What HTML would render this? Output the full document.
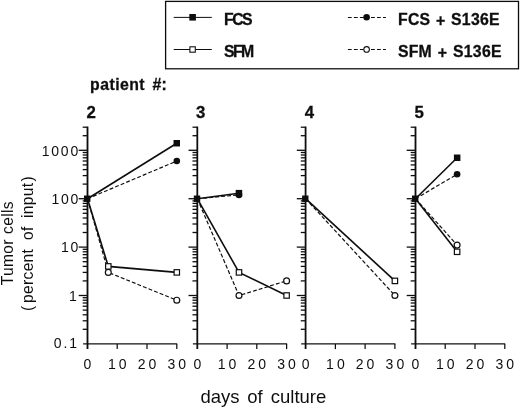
<!DOCTYPE html>
<html lang="en"><head><meta charset="utf-8"><title>Tumor cells vs days of culture</title>
<style>html,body{margin:0;padding:0;background:#fff}body{width:520px;height:408px;overflow:hidden;font-family:"Liberation Sans",sans-serif}svg{display:block;position:absolute;left:0;top:0}</style></head>
<body>
<svg width="520" height="408" viewBox="0 0 520 408">
<rect width="520" height="408" fill="#fff"/>
<defs><filter id="soft" x="0" y="0" width="520" height="408" filterUnits="userSpaceOnUse"><feGaussianBlur stdDeviation="0.32"/></filter></defs>
<g filter="url(#soft)" font-family="'Liberation Sans', sans-serif" fill="#111" stroke="none">
<rect x="165.6" y="1.4" width="352.9" height="67.4" fill="none" stroke="#111" stroke-width="1.3"/>
<line x1="173.7" y1="17.4" x2="211.8" y2="17.4" stroke="#111" stroke-width="1"/>
<rect x="189.3" y="14.0" width="6.6" height="6.6" fill="#111"/>
<line x1="173.7" y1="49.5" x2="211.8" y2="49.5" stroke="#111" stroke-width="1"/>
<rect x="189.9" y="46.8" width="5.4" height="5.4" fill="#fff" stroke="#111" stroke-width="1.1"/>
<line x1="347.9" y1="17.4" x2="364" y2="17.4" stroke="#111" stroke-width="1.05" stroke-dasharray="3.8 2.2"/>
<line x1="371.0" y1="17.4" x2="385.9" y2="17.4" stroke="#111" stroke-width="1.05" stroke-dasharray="3.8 2.2"/>
<circle cx="366.6" cy="17.3" r="3.3" fill="#111"/>
<line x1="347.9" y1="49.5" x2="364" y2="49.5" stroke="#111" stroke-width="1.05" stroke-dasharray="3.8 2.2"/>
<line x1="371.0" y1="49.5" x2="385.9" y2="49.5" stroke="#111" stroke-width="1.05" stroke-dasharray="3.8 2.2"/>
<circle cx="366.6" cy="49.4" r="2.8" fill="#fff" stroke="#111" stroke-width="1.1"/>
<text x="224.1" y="25.0" font-size="15.8" font-weight="bold" stroke="#111" stroke-width="0.3" letter-spacing="-1.6">FCS</text>
<text x="224.1" y="57.1" font-size="15.8" font-weight="bold" stroke="#111" stroke-width="0.3" letter-spacing="-1.6">SFM</text>
<text x="398.1" y="25.0" font-size="15.8" font-weight="bold" stroke="#111" stroke-width="0.3" letter-spacing="0.15">FCS</text>
<text x="436.1" y="25.9" font-size="15.8" font-weight="bold" stroke="#111" stroke-width="0.3">+</text>
<text x="451.0" y="25.0" font-size="15.8" font-weight="bold" stroke="#111" stroke-width="0.3" letter-spacing="0.3">S136E</text>
<text x="398.0" y="57.1" font-size="15.8" font-weight="bold" stroke="#111" stroke-width="0.3" letter-spacing="0.15">SFM</text>
<text x="437.8" y="58.0" font-size="15.8" font-weight="bold" stroke="#111" stroke-width="0.3">+</text>
<text x="452.9" y="57.1" font-size="15.8" font-weight="bold" stroke="#111" stroke-width="0.3" letter-spacing="0.3">S136E</text>
<text x="90.1" y="90.2" font-size="15.8" font-weight="bold" stroke="#111" stroke-width="0.3" letter-spacing="0.45">patient</text>
<text x="152.5" y="90.2" font-size="15.8" font-weight="bold" stroke="#111" stroke-width="0.3" letter-spacing="0.1">#:</text>
<text x="86.6" y="117.7" font-size="16.8" font-weight="bold" stroke="#111" stroke-width="0.3">2</text>
<text x="195.9" y="117.7" font-size="16.8" font-weight="bold" stroke="#111" stroke-width="0.3">3</text>
<text x="304.7" y="117.7" font-size="16.8" font-weight="bold" stroke="#111" stroke-width="0.3">4</text>
<text x="414.5" y="117.7" font-size="16.8" font-weight="bold" stroke="#111" stroke-width="0.3">5</text>
<text transform="translate(13.0,285.3) rotate(-90)" font-size="15.6" letter-spacing="0.3">Tumor</text>
<text transform="translate(13.0,233.9) rotate(-90)" font-size="15.6" letter-spacing="0.3">cells</text>
<text transform="translate(33.0,310.9) rotate(-90)" font-size="15.6" letter-spacing="0.3">(</text>
<text transform="translate(33.0,302.9) rotate(-90)" font-size="15.6" letter-spacing="0.3">percent</text>
<text transform="translate(33.0,239.9) rotate(-90)" font-size="15.6" letter-spacing="0.3">of</text>
<text transform="translate(33.0,217.9) rotate(-90)" font-size="15.6" letter-spacing="0.3">input</text>
<text transform="translate(33.0,181.6) rotate(-90)" font-size="15.6" letter-spacing="0.3">)</text>
<text x="200.4" y="402.9" font-size="18.5">days</text>
<text x="247.3" y="402.9" font-size="18.5">of</text>
<text x="270.8" y="402.9" font-size="18.5">culture</text>
<text x="80.0" y="155.6" font-size="14" text-anchor="end" letter-spacing="1.8">1000</text>
<text x="80.2" y="204.0" font-size="14" text-anchor="end" letter-spacing="1.8">100</text>
<text x="80.2" y="252.4" font-size="14" text-anchor="end" letter-spacing="1.8">10</text>
<text x="78.7" y="300.8" font-size="14" text-anchor="end" letter-spacing="1.8">1</text>
<text x="53.7" y="348.2" font-size="14" letter-spacing="2.0">0.1</text>
<line x1="87.5" y1="126.6" x2="87.5" y2="349.0" stroke="#111" stroke-width="1.8"/>
<line x1="83.1" y1="343.9" x2="177.2" y2="343.9" stroke="#111" stroke-width="1.4"/>
<text x="89.0" y="368.8" font-size="14" text-anchor="middle" letter-spacing="3.0">0</text>
<line x1="117.2" y1="343.9" x2="117.2" y2="349.09999999999997" stroke="#111" stroke-width="1.25"/>
<text x="118.8" y="368.8" font-size="14" text-anchor="middle" letter-spacing="3.0">10</text>
<line x1="147.0" y1="343.9" x2="147.0" y2="349.09999999999997" stroke="#111" stroke-width="1.25"/>
<text x="148.5" y="368.8" font-size="14" text-anchor="middle" letter-spacing="3.0">20</text>
<line x1="176.8" y1="343.9" x2="176.8" y2="349.09999999999997" stroke="#111" stroke-width="1.25"/>
<text x="178.2" y="368.8" font-size="14" text-anchor="middle" letter-spacing="3.0">30</text>
<line x1="82.7" y1="329.3" x2="87.5" y2="329.3" stroke="#111" stroke-width="1.3"/>
<line x1="82.7" y1="320.8" x2="87.5" y2="320.8" stroke="#111" stroke-width="1.3"/>
<line x1="82.7" y1="314.8" x2="87.5" y2="314.8" stroke="#111" stroke-width="1.3"/>
<line x1="82.7" y1="310.1" x2="87.5" y2="310.1" stroke="#111" stroke-width="1.3"/>
<line x1="82.7" y1="306.2" x2="87.5" y2="306.2" stroke="#111" stroke-width="1.3"/>
<line x1="82.7" y1="303.0" x2="87.5" y2="303.0" stroke="#111" stroke-width="1.3"/>
<line x1="82.7" y1="300.2" x2="87.5" y2="300.2" stroke="#111" stroke-width="1.3"/>
<line x1="82.7" y1="297.7" x2="87.5" y2="297.7" stroke="#111" stroke-width="1.3"/>
<line x1="78.7" y1="295.5" x2="87.5" y2="295.5" stroke="#111" stroke-width="1.3"/>
<line x1="82.7" y1="280.9" x2="87.5" y2="280.9" stroke="#111" stroke-width="1.3"/>
<line x1="82.7" y1="272.4" x2="87.5" y2="272.4" stroke="#111" stroke-width="1.3"/>
<line x1="82.7" y1="266.4" x2="87.5" y2="266.4" stroke="#111" stroke-width="1.3"/>
<line x1="82.7" y1="261.7" x2="87.5" y2="261.7" stroke="#111" stroke-width="1.3"/>
<line x1="82.7" y1="257.8" x2="87.5" y2="257.8" stroke="#111" stroke-width="1.3"/>
<line x1="82.7" y1="254.6" x2="87.5" y2="254.6" stroke="#111" stroke-width="1.3"/>
<line x1="82.7" y1="251.8" x2="87.5" y2="251.8" stroke="#111" stroke-width="1.3"/>
<line x1="82.7" y1="249.3" x2="87.5" y2="249.3" stroke="#111" stroke-width="1.3"/>
<line x1="78.7" y1="247.1" x2="87.5" y2="247.1" stroke="#111" stroke-width="1.3"/>
<line x1="82.7" y1="232.5" x2="87.5" y2="232.5" stroke="#111" stroke-width="1.3"/>
<line x1="82.7" y1="224.0" x2="87.5" y2="224.0" stroke="#111" stroke-width="1.3"/>
<line x1="82.7" y1="218.0" x2="87.5" y2="218.0" stroke="#111" stroke-width="1.3"/>
<line x1="82.7" y1="213.3" x2="87.5" y2="213.3" stroke="#111" stroke-width="1.3"/>
<line x1="82.7" y1="209.4" x2="87.5" y2="209.4" stroke="#111" stroke-width="1.3"/>
<line x1="82.7" y1="206.2" x2="87.5" y2="206.2" stroke="#111" stroke-width="1.3"/>
<line x1="82.7" y1="203.4" x2="87.5" y2="203.4" stroke="#111" stroke-width="1.3"/>
<line x1="82.7" y1="200.9" x2="87.5" y2="200.9" stroke="#111" stroke-width="1.3"/>
<line x1="78.7" y1="198.7" x2="87.5" y2="198.7" stroke="#111" stroke-width="1.3"/>
<line x1="82.7" y1="184.1" x2="87.5" y2="184.1" stroke="#111" stroke-width="1.3"/>
<line x1="82.7" y1="175.6" x2="87.5" y2="175.6" stroke="#111" stroke-width="1.3"/>
<line x1="82.7" y1="169.6" x2="87.5" y2="169.6" stroke="#111" stroke-width="1.3"/>
<line x1="82.7" y1="164.9" x2="87.5" y2="164.9" stroke="#111" stroke-width="1.3"/>
<line x1="82.7" y1="161.0" x2="87.5" y2="161.0" stroke="#111" stroke-width="1.3"/>
<line x1="82.7" y1="157.8" x2="87.5" y2="157.8" stroke="#111" stroke-width="1.3"/>
<line x1="82.7" y1="155.0" x2="87.5" y2="155.0" stroke="#111" stroke-width="1.3"/>
<line x1="82.7" y1="152.5" x2="87.5" y2="152.5" stroke="#111" stroke-width="1.3"/>
<line x1="78.7" y1="150.3" x2="87.5" y2="150.3" stroke="#111" stroke-width="1.3"/>
<line x1="82.7" y1="135.7" x2="87.5" y2="135.7" stroke="#111" stroke-width="1.3"/>
<line x1="82.7" y1="127.2" x2="87.5" y2="127.2" stroke="#111" stroke-width="1.3"/>
<line x1="197.3" y1="126.6" x2="197.3" y2="349.0" stroke="#111" stroke-width="1.8"/>
<line x1="192.9" y1="343.9" x2="287.1" y2="343.9" stroke="#111" stroke-width="1.4"/>
<text x="198.8" y="368.8" font-size="14" text-anchor="middle" letter-spacing="3.0">0</text>
<line x1="227.1" y1="343.9" x2="227.1" y2="349.09999999999997" stroke="#111" stroke-width="1.25"/>
<text x="228.6" y="368.8" font-size="14" text-anchor="middle" letter-spacing="3.0">10</text>
<line x1="256.8" y1="343.9" x2="256.8" y2="349.09999999999997" stroke="#111" stroke-width="1.25"/>
<text x="258.3" y="368.8" font-size="14" text-anchor="middle" letter-spacing="3.0">20</text>
<line x1="286.6" y1="343.9" x2="286.6" y2="349.09999999999997" stroke="#111" stroke-width="1.25"/>
<text x="288.1" y="368.8" font-size="14" text-anchor="middle" letter-spacing="3.0">30</text>
<line x1="192.5" y1="329.3" x2="197.3" y2="329.3" stroke="#111" stroke-width="1.3"/>
<line x1="192.5" y1="320.8" x2="197.3" y2="320.8" stroke="#111" stroke-width="1.3"/>
<line x1="192.5" y1="314.8" x2="197.3" y2="314.8" stroke="#111" stroke-width="1.3"/>
<line x1="192.5" y1="310.1" x2="197.3" y2="310.1" stroke="#111" stroke-width="1.3"/>
<line x1="192.5" y1="306.2" x2="197.3" y2="306.2" stroke="#111" stroke-width="1.3"/>
<line x1="192.5" y1="303.0" x2="197.3" y2="303.0" stroke="#111" stroke-width="1.3"/>
<line x1="192.5" y1="300.2" x2="197.3" y2="300.2" stroke="#111" stroke-width="1.3"/>
<line x1="192.5" y1="297.7" x2="197.3" y2="297.7" stroke="#111" stroke-width="1.3"/>
<line x1="188.5" y1="295.5" x2="197.3" y2="295.5" stroke="#111" stroke-width="1.3"/>
<line x1="192.5" y1="280.9" x2="197.3" y2="280.9" stroke="#111" stroke-width="1.3"/>
<line x1="192.5" y1="272.4" x2="197.3" y2="272.4" stroke="#111" stroke-width="1.3"/>
<line x1="192.5" y1="266.4" x2="197.3" y2="266.4" stroke="#111" stroke-width="1.3"/>
<line x1="192.5" y1="261.7" x2="197.3" y2="261.7" stroke="#111" stroke-width="1.3"/>
<line x1="192.5" y1="257.8" x2="197.3" y2="257.8" stroke="#111" stroke-width="1.3"/>
<line x1="192.5" y1="254.6" x2="197.3" y2="254.6" stroke="#111" stroke-width="1.3"/>
<line x1="192.5" y1="251.8" x2="197.3" y2="251.8" stroke="#111" stroke-width="1.3"/>
<line x1="192.5" y1="249.3" x2="197.3" y2="249.3" stroke="#111" stroke-width="1.3"/>
<line x1="188.5" y1="247.1" x2="197.3" y2="247.1" stroke="#111" stroke-width="1.3"/>
<line x1="192.5" y1="232.5" x2="197.3" y2="232.5" stroke="#111" stroke-width="1.3"/>
<line x1="192.5" y1="224.0" x2="197.3" y2="224.0" stroke="#111" stroke-width="1.3"/>
<line x1="192.5" y1="218.0" x2="197.3" y2="218.0" stroke="#111" stroke-width="1.3"/>
<line x1="192.5" y1="213.3" x2="197.3" y2="213.3" stroke="#111" stroke-width="1.3"/>
<line x1="192.5" y1="209.4" x2="197.3" y2="209.4" stroke="#111" stroke-width="1.3"/>
<line x1="192.5" y1="206.2" x2="197.3" y2="206.2" stroke="#111" stroke-width="1.3"/>
<line x1="192.5" y1="203.4" x2="197.3" y2="203.4" stroke="#111" stroke-width="1.3"/>
<line x1="192.5" y1="200.9" x2="197.3" y2="200.9" stroke="#111" stroke-width="1.3"/>
<line x1="188.5" y1="198.7" x2="197.3" y2="198.7" stroke="#111" stroke-width="1.3"/>
<line x1="192.5" y1="184.1" x2="197.3" y2="184.1" stroke="#111" stroke-width="1.3"/>
<line x1="192.5" y1="175.6" x2="197.3" y2="175.6" stroke="#111" stroke-width="1.3"/>
<line x1="192.5" y1="169.6" x2="197.3" y2="169.6" stroke="#111" stroke-width="1.3"/>
<line x1="192.5" y1="164.9" x2="197.3" y2="164.9" stroke="#111" stroke-width="1.3"/>
<line x1="192.5" y1="161.0" x2="197.3" y2="161.0" stroke="#111" stroke-width="1.3"/>
<line x1="192.5" y1="157.8" x2="197.3" y2="157.8" stroke="#111" stroke-width="1.3"/>
<line x1="192.5" y1="155.0" x2="197.3" y2="155.0" stroke="#111" stroke-width="1.3"/>
<line x1="192.5" y1="152.5" x2="197.3" y2="152.5" stroke="#111" stroke-width="1.3"/>
<line x1="188.5" y1="150.3" x2="197.3" y2="150.3" stroke="#111" stroke-width="1.3"/>
<line x1="192.5" y1="135.7" x2="197.3" y2="135.7" stroke="#111" stroke-width="1.3"/>
<line x1="192.5" y1="127.2" x2="197.3" y2="127.2" stroke="#111" stroke-width="1.3"/>
<line x1="305.6" y1="126.6" x2="305.6" y2="349.0" stroke="#111" stroke-width="1.8"/>
<line x1="301.20000000000005" y1="343.9" x2="395.4" y2="343.9" stroke="#111" stroke-width="1.4"/>
<text x="307.1" y="368.8" font-size="14" text-anchor="middle" letter-spacing="3.0">0</text>
<line x1="335.4" y1="343.9" x2="335.4" y2="349.09999999999997" stroke="#111" stroke-width="1.25"/>
<text x="336.9" y="368.8" font-size="14" text-anchor="middle" letter-spacing="3.0">10</text>
<line x1="365.1" y1="343.9" x2="365.1" y2="349.09999999999997" stroke="#111" stroke-width="1.25"/>
<text x="366.6" y="368.8" font-size="14" text-anchor="middle" letter-spacing="3.0">20</text>
<line x1="394.9" y1="343.9" x2="394.9" y2="349.09999999999997" stroke="#111" stroke-width="1.25"/>
<text x="396.4" y="368.8" font-size="14" text-anchor="middle" letter-spacing="3.0">30</text>
<line x1="300.8" y1="329.3" x2="305.6" y2="329.3" stroke="#111" stroke-width="1.3"/>
<line x1="300.8" y1="320.8" x2="305.6" y2="320.8" stroke="#111" stroke-width="1.3"/>
<line x1="300.8" y1="314.8" x2="305.6" y2="314.8" stroke="#111" stroke-width="1.3"/>
<line x1="300.8" y1="310.1" x2="305.6" y2="310.1" stroke="#111" stroke-width="1.3"/>
<line x1="300.8" y1="306.2" x2="305.6" y2="306.2" stroke="#111" stroke-width="1.3"/>
<line x1="300.8" y1="303.0" x2="305.6" y2="303.0" stroke="#111" stroke-width="1.3"/>
<line x1="300.8" y1="300.2" x2="305.6" y2="300.2" stroke="#111" stroke-width="1.3"/>
<line x1="300.8" y1="297.7" x2="305.6" y2="297.7" stroke="#111" stroke-width="1.3"/>
<line x1="296.8" y1="295.5" x2="305.6" y2="295.5" stroke="#111" stroke-width="1.3"/>
<line x1="300.8" y1="280.9" x2="305.6" y2="280.9" stroke="#111" stroke-width="1.3"/>
<line x1="300.8" y1="272.4" x2="305.6" y2="272.4" stroke="#111" stroke-width="1.3"/>
<line x1="300.8" y1="266.4" x2="305.6" y2="266.4" stroke="#111" stroke-width="1.3"/>
<line x1="300.8" y1="261.7" x2="305.6" y2="261.7" stroke="#111" stroke-width="1.3"/>
<line x1="300.8" y1="257.8" x2="305.6" y2="257.8" stroke="#111" stroke-width="1.3"/>
<line x1="300.8" y1="254.6" x2="305.6" y2="254.6" stroke="#111" stroke-width="1.3"/>
<line x1="300.8" y1="251.8" x2="305.6" y2="251.8" stroke="#111" stroke-width="1.3"/>
<line x1="300.8" y1="249.3" x2="305.6" y2="249.3" stroke="#111" stroke-width="1.3"/>
<line x1="296.8" y1="247.1" x2="305.6" y2="247.1" stroke="#111" stroke-width="1.3"/>
<line x1="300.8" y1="232.5" x2="305.6" y2="232.5" stroke="#111" stroke-width="1.3"/>
<line x1="300.8" y1="224.0" x2="305.6" y2="224.0" stroke="#111" stroke-width="1.3"/>
<line x1="300.8" y1="218.0" x2="305.6" y2="218.0" stroke="#111" stroke-width="1.3"/>
<line x1="300.8" y1="213.3" x2="305.6" y2="213.3" stroke="#111" stroke-width="1.3"/>
<line x1="300.8" y1="209.4" x2="305.6" y2="209.4" stroke="#111" stroke-width="1.3"/>
<line x1="300.8" y1="206.2" x2="305.6" y2="206.2" stroke="#111" stroke-width="1.3"/>
<line x1="300.8" y1="203.4" x2="305.6" y2="203.4" stroke="#111" stroke-width="1.3"/>
<line x1="300.8" y1="200.9" x2="305.6" y2="200.9" stroke="#111" stroke-width="1.3"/>
<line x1="296.8" y1="198.7" x2="305.6" y2="198.7" stroke="#111" stroke-width="1.3"/>
<line x1="300.8" y1="184.1" x2="305.6" y2="184.1" stroke="#111" stroke-width="1.3"/>
<line x1="300.8" y1="175.6" x2="305.6" y2="175.6" stroke="#111" stroke-width="1.3"/>
<line x1="300.8" y1="169.6" x2="305.6" y2="169.6" stroke="#111" stroke-width="1.3"/>
<line x1="300.8" y1="164.9" x2="305.6" y2="164.9" stroke="#111" stroke-width="1.3"/>
<line x1="300.8" y1="161.0" x2="305.6" y2="161.0" stroke="#111" stroke-width="1.3"/>
<line x1="300.8" y1="157.8" x2="305.6" y2="157.8" stroke="#111" stroke-width="1.3"/>
<line x1="300.8" y1="155.0" x2="305.6" y2="155.0" stroke="#111" stroke-width="1.3"/>
<line x1="300.8" y1="152.5" x2="305.6" y2="152.5" stroke="#111" stroke-width="1.3"/>
<line x1="296.8" y1="150.3" x2="305.6" y2="150.3" stroke="#111" stroke-width="1.3"/>
<line x1="300.8" y1="135.7" x2="305.6" y2="135.7" stroke="#111" stroke-width="1.3"/>
<line x1="300.8" y1="127.2" x2="305.6" y2="127.2" stroke="#111" stroke-width="1.3"/>
<line x1="415.5" y1="126.6" x2="415.5" y2="349.0" stroke="#111" stroke-width="1.8"/>
<line x1="411.1" y1="343.9" x2="505.2" y2="343.9" stroke="#111" stroke-width="1.4"/>
<text x="417.0" y="368.8" font-size="14" text-anchor="middle" letter-spacing="3.0">0</text>
<line x1="445.2" y1="343.9" x2="445.2" y2="349.09999999999997" stroke="#111" stroke-width="1.25"/>
<text x="446.8" y="368.8" font-size="14" text-anchor="middle" letter-spacing="3.0">10</text>
<line x1="475.0" y1="343.9" x2="475.0" y2="349.09999999999997" stroke="#111" stroke-width="1.25"/>
<text x="476.5" y="368.8" font-size="14" text-anchor="middle" letter-spacing="3.0">20</text>
<line x1="504.8" y1="343.9" x2="504.8" y2="349.09999999999997" stroke="#111" stroke-width="1.25"/>
<text x="506.2" y="368.8" font-size="14" text-anchor="middle" letter-spacing="3.0">30</text>
<line x1="410.7" y1="329.3" x2="415.5" y2="329.3" stroke="#111" stroke-width="1.3"/>
<line x1="410.7" y1="320.8" x2="415.5" y2="320.8" stroke="#111" stroke-width="1.3"/>
<line x1="410.7" y1="314.8" x2="415.5" y2="314.8" stroke="#111" stroke-width="1.3"/>
<line x1="410.7" y1="310.1" x2="415.5" y2="310.1" stroke="#111" stroke-width="1.3"/>
<line x1="410.7" y1="306.2" x2="415.5" y2="306.2" stroke="#111" stroke-width="1.3"/>
<line x1="410.7" y1="303.0" x2="415.5" y2="303.0" stroke="#111" stroke-width="1.3"/>
<line x1="410.7" y1="300.2" x2="415.5" y2="300.2" stroke="#111" stroke-width="1.3"/>
<line x1="410.7" y1="297.7" x2="415.5" y2="297.7" stroke="#111" stroke-width="1.3"/>
<line x1="406.7" y1="295.5" x2="415.5" y2="295.5" stroke="#111" stroke-width="1.3"/>
<line x1="410.7" y1="280.9" x2="415.5" y2="280.9" stroke="#111" stroke-width="1.3"/>
<line x1="410.7" y1="272.4" x2="415.5" y2="272.4" stroke="#111" stroke-width="1.3"/>
<line x1="410.7" y1="266.4" x2="415.5" y2="266.4" stroke="#111" stroke-width="1.3"/>
<line x1="410.7" y1="261.7" x2="415.5" y2="261.7" stroke="#111" stroke-width="1.3"/>
<line x1="410.7" y1="257.8" x2="415.5" y2="257.8" stroke="#111" stroke-width="1.3"/>
<line x1="410.7" y1="254.6" x2="415.5" y2="254.6" stroke="#111" stroke-width="1.3"/>
<line x1="410.7" y1="251.8" x2="415.5" y2="251.8" stroke="#111" stroke-width="1.3"/>
<line x1="410.7" y1="249.3" x2="415.5" y2="249.3" stroke="#111" stroke-width="1.3"/>
<line x1="406.7" y1="247.1" x2="415.5" y2="247.1" stroke="#111" stroke-width="1.3"/>
<line x1="410.7" y1="232.5" x2="415.5" y2="232.5" stroke="#111" stroke-width="1.3"/>
<line x1="410.7" y1="224.0" x2="415.5" y2="224.0" stroke="#111" stroke-width="1.3"/>
<line x1="410.7" y1="218.0" x2="415.5" y2="218.0" stroke="#111" stroke-width="1.3"/>
<line x1="410.7" y1="213.3" x2="415.5" y2="213.3" stroke="#111" stroke-width="1.3"/>
<line x1="410.7" y1="209.4" x2="415.5" y2="209.4" stroke="#111" stroke-width="1.3"/>
<line x1="410.7" y1="206.2" x2="415.5" y2="206.2" stroke="#111" stroke-width="1.3"/>
<line x1="410.7" y1="203.4" x2="415.5" y2="203.4" stroke="#111" stroke-width="1.3"/>
<line x1="410.7" y1="200.9" x2="415.5" y2="200.9" stroke="#111" stroke-width="1.3"/>
<line x1="406.7" y1="198.7" x2="415.5" y2="198.7" stroke="#111" stroke-width="1.3"/>
<line x1="410.7" y1="184.1" x2="415.5" y2="184.1" stroke="#111" stroke-width="1.3"/>
<line x1="410.7" y1="175.6" x2="415.5" y2="175.6" stroke="#111" stroke-width="1.3"/>
<line x1="410.7" y1="169.6" x2="415.5" y2="169.6" stroke="#111" stroke-width="1.3"/>
<line x1="410.7" y1="164.9" x2="415.5" y2="164.9" stroke="#111" stroke-width="1.3"/>
<line x1="410.7" y1="161.0" x2="415.5" y2="161.0" stroke="#111" stroke-width="1.3"/>
<line x1="410.7" y1="157.8" x2="415.5" y2="157.8" stroke="#111" stroke-width="1.3"/>
<line x1="410.7" y1="155.0" x2="415.5" y2="155.0" stroke="#111" stroke-width="1.3"/>
<line x1="410.7" y1="152.5" x2="415.5" y2="152.5" stroke="#111" stroke-width="1.3"/>
<line x1="406.7" y1="150.3" x2="415.5" y2="150.3" stroke="#111" stroke-width="1.3"/>
<line x1="410.7" y1="135.7" x2="415.5" y2="135.7" stroke="#111" stroke-width="1.3"/>
<line x1="410.7" y1="127.2" x2="415.5" y2="127.2" stroke="#111" stroke-width="1.3"/>
<polyline points="87.5,198.7 108.3,272.4 176.8,300.2" fill="none" stroke="#111" stroke-width="1.2" stroke-dasharray="3.9 2.1"/>
<polyline points="87.5,198.7 176.8,161.0" fill="none" stroke="#111" stroke-width="1.2" stroke-dasharray="3.9 2.1"/>
<polyline points="87.5,198.7 108.3,266.4 176.8,272.4" fill="none" stroke="#111" stroke-width="1.6"/>
<polyline points="87.5,198.7 176.8,143.2" fill="none" stroke="#111" stroke-width="1.6"/>
<circle cx="108.3" cy="272.4" r="2.95" fill="#fff" stroke="#111" stroke-width="1.2"/>
<circle cx="176.8" cy="300.2" r="2.95" fill="#fff" stroke="#111" stroke-width="1.2"/>
<circle cx="176.8" cy="161.0" r="3.3" fill="#111"/>
<rect x="105.6" y="263.7" width="5.4" height="5.4" fill="#fff" stroke="#111" stroke-width="1.2"/>
<rect x="174.1" y="269.7" width="5.4" height="5.4" fill="#fff" stroke="#111" stroke-width="1.2"/>
<rect x="173.5" y="140.0" width="6.5" height="6.5" fill="#111"/>
<rect x="84.0" y="195.5" width="6.4" height="6.4" fill="#111"/>
<polyline points="197.3,198.7 239.0,295.5 286.6,280.9" fill="none" stroke="#111" stroke-width="1.2" stroke-dasharray="3.9 2.1"/>
<polyline points="197.3,198.7 239.0,194.9" fill="none" stroke="#111" stroke-width="1.2" stroke-dasharray="3.9 2.1"/>
<polyline points="197.3,198.7 239.0,272.4 286.6,295.5" fill="none" stroke="#111" stroke-width="1.6"/>
<polyline points="197.3,198.7 239.0,193.2" fill="none" stroke="#111" stroke-width="1.6"/>
<circle cx="239.0" cy="295.5" r="2.95" fill="#fff" stroke="#111" stroke-width="1.2"/>
<circle cx="286.6" cy="280.9" r="2.95" fill="#fff" stroke="#111" stroke-width="1.2"/>
<circle cx="239.0" cy="194.9" r="3.3" fill="#111"/>
<rect x="236.3" y="269.7" width="5.4" height="5.4" fill="#fff" stroke="#111" stroke-width="1.2"/>
<rect x="283.9" y="292.8" width="5.4" height="5.4" fill="#fff" stroke="#111" stroke-width="1.2"/>
<rect x="235.7" y="189.9" width="6.5" height="6.5" fill="#111"/>
<rect x="193.8" y="195.5" width="6.4" height="6.4" fill="#111"/>
<polyline points="305.6,198.7 394.9,295.5" fill="none" stroke="#111" stroke-width="1.2" stroke-dasharray="3.9 2.1"/>
<polyline points="305.6,198.7 394.9,280.9" fill="none" stroke="#111" stroke-width="1.6"/>
<circle cx="394.9" cy="295.5" r="2.95" fill="#fff" stroke="#111" stroke-width="1.2"/>
<rect x="392.2" y="278.2" width="5.4" height="5.4" fill="#fff" stroke="#111" stroke-width="1.2"/>
<rect x="302.1" y="195.5" width="6.4" height="6.4" fill="#111"/>
<polyline points="415.5,198.7 457.1,245.1" fill="none" stroke="#111" stroke-width="1.2" stroke-dasharray="3.9 2.1"/>
<polyline points="415.5,198.7 457.1,174.3" fill="none" stroke="#111" stroke-width="1.2" stroke-dasharray="3.9 2.1"/>
<polyline points="415.5,198.7 457.1,251.8" fill="none" stroke="#111" stroke-width="1.6"/>
<polyline points="415.5,198.7 457.1,157.8" fill="none" stroke="#111" stroke-width="1.6"/>
<circle cx="457.1" cy="245.1" r="2.95" fill="#fff" stroke="#111" stroke-width="1.2"/>
<circle cx="457.1" cy="174.3" r="3.3" fill="#111"/>
<rect x="454.4" y="249.1" width="5.4" height="5.4" fill="#fff" stroke="#111" stroke-width="1.2"/>
<rect x="453.9" y="154.5" width="6.5" height="6.5" fill="#111"/>
<rect x="412.0" y="195.5" width="6.4" height="6.4" fill="#111"/>
</g></svg>
</body></html>
